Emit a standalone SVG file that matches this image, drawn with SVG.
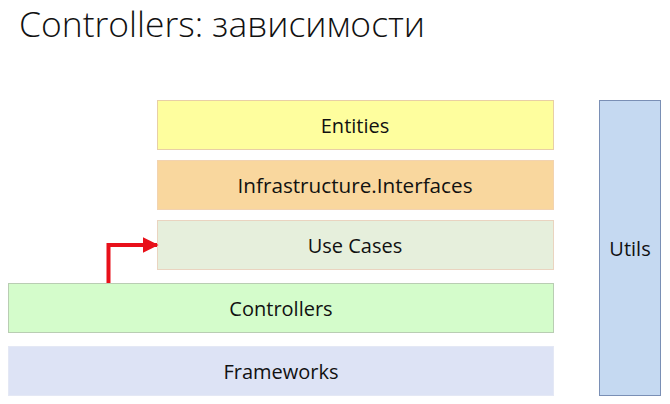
<svg xmlns="http://www.w3.org/2000/svg" width="670" height="404" viewBox="0 0 670 404">
<defs>
<style>
.lbl{font-family:"Open Sans","Noto Sans",sans-serif;font-size:20px;fill:#111;text-anchor:middle;dominant-baseline:central}
.ttl{font-family:"Open Sans","Noto Sans",sans-serif;font-weight:300;font-size:35px;fill:#111}
</style>
<marker id="ah" viewBox="0 0 10 10" refX="9" refY="5" markerWidth="4" markerHeight="4" orient="auto" markerUnits="strokeWidth">
<path d="M0,0L10,5L0,10z" fill="#E8101A"/>
</marker>
</defs>
<rect width="670" height="404" fill="#fff"/>
<text class="ttl" x="19" y="37" textLength="406" lengthAdjust="spacingAndGlyphs">Controllers: зависимости</text>
<g id="entities"><rect x="157.5" y="100.5" width="396" height="49" fill="#FEFE9E" stroke="#E8CFA6"/><text class="lbl" x="355" y="125">Entities</text></g>
<g id="infrastructure"><rect x="157.5" y="160.5" width="396" height="49" fill="#F9D79E" stroke="#F2D3B0"/><text class="lbl" x="355" y="185" textLength="235" lengthAdjust="spacingAndGlyphs">Infrastructure.Interfaces</text></g>
<g id="usecases"><rect x="157.5" y="220.5" width="396" height="49" fill="#E6EFDC" stroke="#EAD4C0"/><text class="lbl" x="355" y="245">Use Cases</text></g>
<g id="controllers"><rect x="8.5" y="283.5" width="545" height="49" fill="#D4FCCB" stroke="#B9CDB3"/><text class="lbl" x="281" y="308">Controllers</text></g>
<g id="frameworks"><rect x="8.5" y="346.5" width="545" height="49" fill="#DDE3F5" stroke="#E4E8F5"/><text class="lbl" x="281" y="371">Frameworks</text></g>
<g id="utils"><rect x="599.5" y="100.5" width="61" height="295" fill="#C5D9F1" stroke="#7A8FB5"/><text class="lbl" x="630" y="248">Utils</text></g>
<g id="connectors"><path d="M108.5,283 V245 H157" fill="none" stroke="#E8101A" stroke-width="4" marker-end="url(#ah)"/></g>
</svg>
